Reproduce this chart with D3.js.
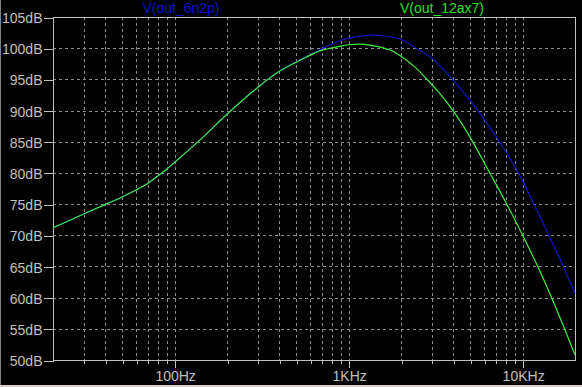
<!DOCTYPE html>
<html>
<head>
<meta charset="utf-8">
<script src="https://cdn.jsdelivr.net/npm/d3@7"></script>
<style>
  body { margin: 0; background: #000; }
  svg { display: block; }
  text { font-family: "Liberation Sans", Arial, sans-serif; font-size: 14px; }
</style>
</head>
<body>
<div id="chart"></div>
<script>
// V(out_6n2p): frequency (Hz) and level (dB)
const freq6n2p = [20, 30, 40, 50, 60, 70, 80, 90, 100, 140, 200, 280, 390, 530, 690, 890,
  1100, 1350, 1600, 2000, 2450, 3000, 3950, 5530, 7360, 9460, 11600, 14150, 17000, 20000];
const db6n2p = [71.2, 73.4, 74.95, 76.15, 77.25, 78.3, 79.5, 80.6, 81.7, 85.3, 89.4, 93.0, 96.1, 98.2, 99.8, 101.2,
  101.8, 102.1, 101.95, 101.4, 100.0, 98.4, 95.0, 90.0, 85.0, 80.0, 75.0, 70.0, 65.2, 60.7];

// V(out_12ax7): frequency (Hz) and level (dB)
const freq12ax7 = [20, 30, 40, 50, 60, 70, 80, 90, 100, 140, 200, 280, 390, 530, 690, 890,
  1000, 1150, 1330, 1500, 1730, 2000, 2400, 2800, 3300, 4000, 5000, 6300, 8000, 10000, 12500, 16000, 20000];
const db12ax7 = [71.2, 73.4, 74.95, 76.15, 77.25, 78.3, 79.5, 80.6, 81.7, 85.3, 89.4, 93.0, 96.1, 98.1, 99.6, 100.3,
  100.55, 100.65, 100.5, 100.2, 99.7, 98.7, 97.0, 95.1, 92.9, 89.9, 85.7, 80.6, 75.3, 70.0, 64.4, 57.5, 50.8];

const seriesNames = ['V(out_6n2p)', 'V(out_12ax7)'];
const yTicks = [50, 55, 60, 65, 70, 75, 80, 85, 90, 95, 100, 105];
const xMajorTicks = [100, 1000, 10000];
const xMajorLabels = ['100Hz', '1KHz', '10KHz'];

const width = 582;
const height = 387;
const plot = {left: 53, right: 575, top: 17, bottom: 360};

const frameColor = '#c0c0c0';
const gridColor = '#8c8c8c';
const gridDash = '3, 3';
const traceColors = ['#1414c8', '#3cf03c'];
const titleColors = ['#1010d0', '#22e022'];

const svg = d3.select('#chart')
  .append('svg')
  .attr('width', width)
  .attr('height', height);

svg.append('rect')
  .attr('width', width)
  .attr('height', height)
  .attr('fill', '#000');

// window chrome remnants
svg.append('rect').attr('x', 0).attr('y', 0).attr('width', 1).attr('height', height).attr('fill', '#808080');
svg.append('rect').attr('x', 0).attr('y', 385).attr('width', width).attr('height', 2).attr('fill', '#d4d0c8');

const xScale = d3.scaleLog()
  .domain([20, 20000])
  .range([plot.left, plot.right]);

const yScale = d3.scaleLinear()
  .domain([50, 105])
  .range([plot.bottom, plot.top]);

// all 1..9 positions per decade
const xGridValues = [];
[10, 100, 1000, 10000].forEach(dec => {
  for (let m = 1; m <= 9; m++) {
    const v = m * dec;
    if (v > 20 && v < 20000) xGridValues.push(v);
  }
});

const grid = svg.append('g').attr('class', 'grid')
  .attr('stroke', gridColor)
  .attr('stroke-dasharray', gridDash)
  .attr('shape-rendering', 'crispEdges');

grid.selectAll('line.vx')
  .data(xGridValues)
  .join('line')
  .attr('class', 'vx')
  .attr('x1', d => Math.round(xScale(d)) + 0.5)
  .attr('x2', d => Math.round(xScale(d)) + 0.5)
  .attr('y1', plot.top)
  .attr('y2', plot.bottom);

grid.selectAll('line.hy')
  .data(yTicks.filter(v => v > 50 && v < 105))
  .join('line')
  .attr('class', 'hy')
  .attr('x1', plot.left)
  .attr('x2', plot.right)
  .attr('y1', d => Math.round(yScale(d)) + 0.5)
  .attr('y2', d => Math.round(yScale(d)) + 0.5);

// frame
svg.append('rect')
  .attr('x', plot.left + 0.5)
  .attr('y', plot.top + 0.5)
  .attr('width', plot.right - plot.left)
  .attr('height', plot.bottom - plot.top)
  .attr('fill', 'none')
  .attr('stroke', frameColor)
  .attr('shape-rendering', 'crispEdges');

// y axis
const yAxis = d3.axisLeft(yScale)
  .tickValues(yTicks)
  .tickSize(10)
  .tickPadding(1)
  .tickFormat(d => d + 'dB');

const yAxisElement = svg.append('g')
  .attr('transform', `translate(${plot.left + 0.5}, 0.5)`)
  .call(yAxis);
yAxisElement.select('path').remove();
yAxisElement.selectAll('line').attr('stroke', frameColor).attr('shape-rendering', 'crispEdges');
yAxisElement.selectAll('text')
  .attr('fill', frameColor)
  .style('font-size', '14px')
  .style('font-family', '"Liberation Sans", Arial, sans-serif')
  .attr('dy', '0.36em');

// x axis: minor ticks then labelled majors
const xAxisMinor = d3.axisBottom(xScale)
  .tickValues(xGridValues.filter(v => xMajorTicks.indexOf(v) < 0))
  .tickSize(3)
  .tickFormat('');

const xMinorElement = svg.append('g')
  .attr('transform', `translate(0.5, ${plot.bottom + 0.5})`)
  .call(xAxisMinor);
xMinorElement.select('path').remove();
xMinorElement.selectAll('line').attr('stroke', frameColor).attr('shape-rendering', 'crispEdges');

const xAxisMajor = d3.axisBottom(xScale)
  .tickValues(xMajorTicks)
  .tickSize(7)
  .tickPadding(4)
  .tickFormat((d, i) => xMajorLabels[i]);

const xMajorElement = svg.append('g')
  .attr('transform', `translate(0.5, ${plot.bottom + 0.5})`)
  .call(xAxisMajor);
xMajorElement.select('path').remove();
xMajorElement.selectAll('line').attr('stroke', frameColor).attr('shape-rendering', 'crispEdges');
xMajorElement.selectAll('text')
  .attr('fill', frameColor)
  .style('font-size', '14px')
  .style('font-family', '"Liberation Sans", Arial, sans-serif');

// traces
const traces = [
  {freq: freq6n2p, db: db6n2p},
  {freq: freq12ax7, db: db12ax7}
];

traces.forEach(({freq, db}, i) => {
  const line = d3.line()
    .x((d, j) => xScale(freq[j]))
    .y(d => yScale(d))
    .curve(d3.curveCatmullRom.alpha(0.5));

  svg.append('path')
    .datum(db)
    .attr('fill', 'none')
    .attr('stroke', traceColors[i])
    .attr('stroke-width', 1.2)
    .attr('d', line);
});

// trace titles
const titleX = [181, 442];
seriesNames.forEach((name, i) => {
  svg.append('text')
    .attr('x', titleX[i])
    .attr('y', 13)
    .attr('text-anchor', 'middle')
    .attr('fill', titleColors[i])
    .text(name);
});
</script>
</body>
</html>
